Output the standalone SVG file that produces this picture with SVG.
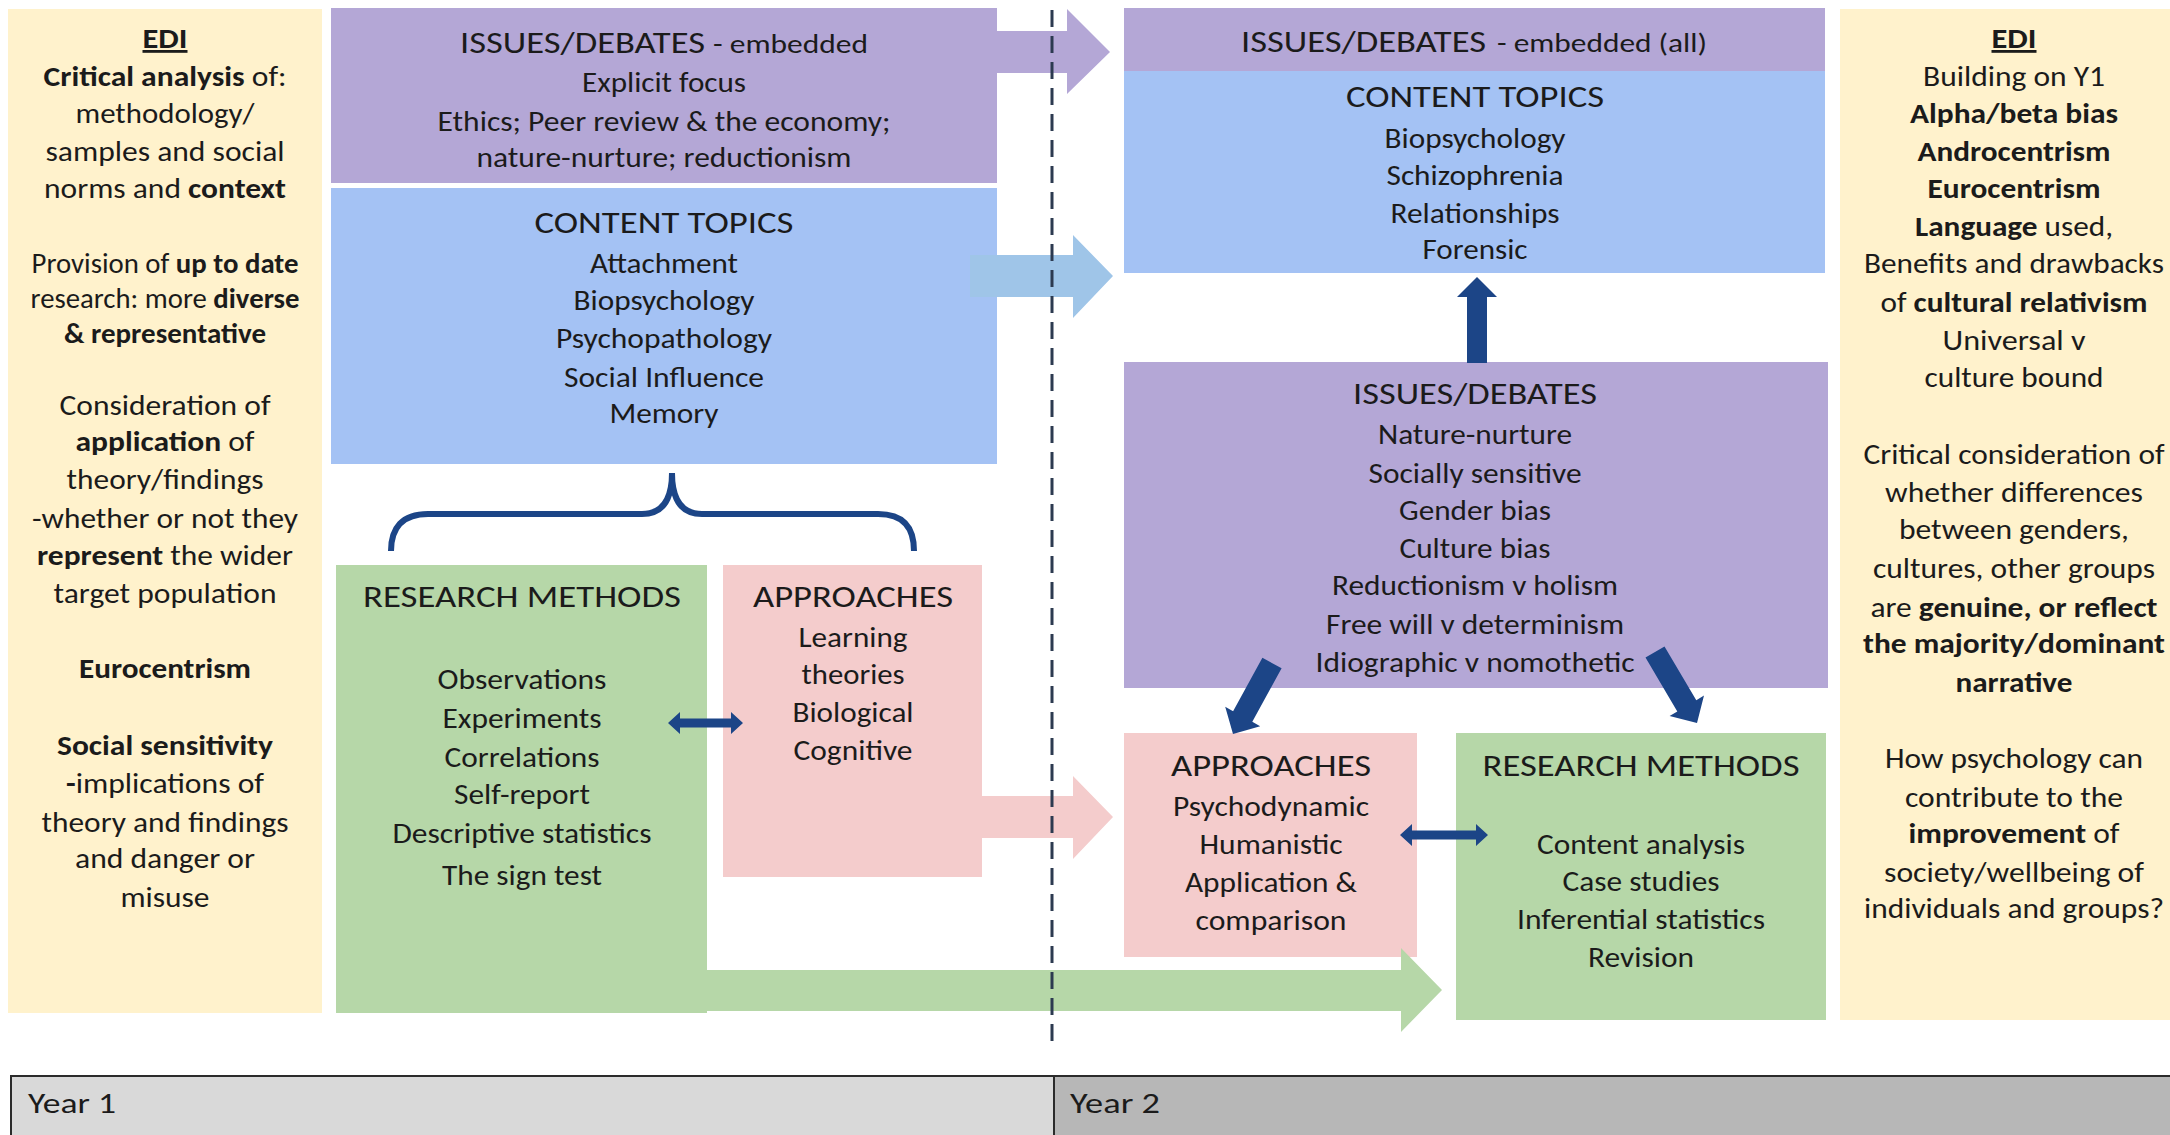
<svg xmlns="http://www.w3.org/2000/svg" width="2170" height="1135" viewBox="0 0 2170 1135">
<style>
text{font-family:Carlito,Lato,"Liberation Sans",sans-serif;fill:#1b1b1b;}
.t{font-size:31px;text-anchor:middle;}
.ts{font-size:31px;}
.sub{font-size:26px;}
.b{font-size:28px;text-anchor:middle;}
.e{font-size:28px;text-anchor:middle;}
.bo{font-weight:700;}
.edi{fill:#fff2cc;}
.pur{fill:#b4a7d6;}
.blu{fill:#a4c2f4;}
.grn{fill:#b6d7a8;}
.pnk{fill:#f4cccc;}
.dk{fill:#1c4587;}
</style>
<rect width="2170" height="1135" fill="#ffffff"/>

<g id="edi-year1">
<rect class="edi" x="8" y="9" width="314" height="1004"/>
<text class="e bo" x="165" y="48" textLength="45" lengthAdjust="spacingAndGlyphs" text-decoration="underline">EDI</text>
<text class="e" x="165" y="86" textLength="243" lengthAdjust="spacingAndGlyphs"><tspan class="bo">Critical analysis</tspan> of:</text>
<text class="e" x="165" y="123" textLength="179" lengthAdjust="spacingAndGlyphs">methodology/</text>
<text class="e" x="165" y="161" textLength="239" lengthAdjust="spacingAndGlyphs">samples and social</text>
<text class="e" x="165" y="198" textLength="242" lengthAdjust="spacingAndGlyphs">norms and <tspan class="bo">context</tspan></text>
<text class="e" x="165" y="273" textLength="267" lengthAdjust="spacingAndGlyphs">Provision of <tspan class="bo">up to date</tspan></text>
<text class="e" x="165" y="308" textLength="269" lengthAdjust="spacingAndGlyphs">research: more <tspan class="bo">diverse</tspan></text>
<text class="e bo" x="165" y="343" textLength="202" lengthAdjust="spacingAndGlyphs">&amp; representative</text>
<text class="e" x="165" y="415" textLength="211" lengthAdjust="spacingAndGlyphs">Consideration of</text>
<text class="e" x="165" y="451" textLength="179" lengthAdjust="spacingAndGlyphs"><tspan class="bo">application</tspan> of</text>
<text class="e" x="165" y="489" textLength="197" lengthAdjust="spacingAndGlyphs">theory/findings</text>
<text class="e" x="165" y="528" textLength="266" lengthAdjust="spacingAndGlyphs">-whether or not they</text>
<text class="e" x="165" y="565" textLength="256" lengthAdjust="spacingAndGlyphs"><tspan class="bo">represent</tspan> the wider</text>
<text class="e" x="165" y="603" textLength="223" lengthAdjust="spacingAndGlyphs">target population</text>
<text class="e bo" x="165" y="678" textLength="172" lengthAdjust="spacingAndGlyphs">Eurocentrism</text>
<text class="e bo" x="165" y="755" textLength="216" lengthAdjust="spacingAndGlyphs">Social sensitivity</text>
<text class="e" x="165" y="793" textLength="198" lengthAdjust="spacingAndGlyphs"><tspan class="bo">-</tspan>implications of</text>
<text class="e" x="165" y="832" textLength="247" lengthAdjust="spacingAndGlyphs">theory and findings</text>
<text class="e" x="165" y="868" textLength="180" lengthAdjust="spacingAndGlyphs">and danger or</text>
<text class="e" x="165" y="907" textLength="89" lengthAdjust="spacingAndGlyphs">misuse</text>
</g>

<g id="issues-year1">
<rect class="pur" x="331" y="8" width="666" height="175"/>
<text class="ts" x="460" y="53" textLength="245" lengthAdjust="spacingAndGlyphs">ISSUES/DEBATES</text>
<text class="sub" x="713" y="53" textLength="155" lengthAdjust="spacingAndGlyphs">- embedded</text>
<text class="b" x="664" y="92" textLength="164" lengthAdjust="spacingAndGlyphs">Explicit focus</text>
<text class="b" x="664" y="131" textLength="453" lengthAdjust="spacingAndGlyphs">Ethics; Peer review &amp; the economy;</text>
<text class="b" x="664" y="167" textLength="375" lengthAdjust="spacingAndGlyphs">nature-nurture; reductionism</text>
</g>

<g id="content-year1">
<rect class="blu" x="331" y="188" width="666" height="276"/>
<text class="t" x="664" y="233" textLength="259" lengthAdjust="spacingAndGlyphs">CONTENT TOPICS</text>
<text class="b" x="664" y="273" textLength="148" lengthAdjust="spacingAndGlyphs">Attachment</text>
<text class="b" x="664" y="310" textLength="181" lengthAdjust="spacingAndGlyphs">Biopsychology</text>
<text class="b" x="664" y="348" textLength="216" lengthAdjust="spacingAndGlyphs">Psychopathology</text>
<text class="b" x="664" y="387" textLength="200" lengthAdjust="spacingAndGlyphs">Social Influence</text>
<text class="b" x="664" y="423" textLength="109" lengthAdjust="spacingAndGlyphs">Memory</text>
</g>

<g id="methods-year1">
<rect class="grn" x="336" y="565" width="371" height="448"/>
<text class="t" x="522" y="607" textLength="318" lengthAdjust="spacingAndGlyphs">RESEARCH METHODS</text>
<text class="b" x="522" y="689" textLength="169" lengthAdjust="spacingAndGlyphs">Observations</text>
<text class="b" x="522" y="728" textLength="159" lengthAdjust="spacingAndGlyphs">Experiments</text>
<text class="b" x="522" y="767" textLength="155" lengthAdjust="spacingAndGlyphs">Correlations</text>
<text class="b" x="522" y="804" textLength="136" lengthAdjust="spacingAndGlyphs">Self-report</text>
<text class="b" x="522" y="843" textLength="259" lengthAdjust="spacingAndGlyphs">Descriptive statistics</text>
<text class="b" x="522" y="885" textLength="160" lengthAdjust="spacingAndGlyphs">The sign test</text>
</g>

<g id="approaches-year1">
<rect class="pnk" x="723" y="565" width="259" height="312"/>
<text class="t" x="853" y="607" textLength="200" lengthAdjust="spacingAndGlyphs">APPROACHES</text>
<text class="b" x="853" y="647" textLength="109" lengthAdjust="spacingAndGlyphs">Learning</text>
<text class="b" x="853" y="684" textLength="103" lengthAdjust="spacingAndGlyphs">theories</text>
<text class="b" x="853" y="722" textLength="121" lengthAdjust="spacingAndGlyphs">Biological</text>
<text class="b" x="853" y="760" textLength="119" lengthAdjust="spacingAndGlyphs">Cognitive</text>
</g>

<g id="issues-embedded-year2">
<rect class="pur" x="1124" y="8" width="701" height="63"/>
<text class="ts" x="1241" y="52" textLength="245" lengthAdjust="spacingAndGlyphs">ISSUES/DEBATES</text>
<text class="sub" x="1497" y="52" textLength="210" lengthAdjust="spacingAndGlyphs">- embedded (all)</text>
</g>

<g id="content-year2">
<rect class="blu" x="1124" y="71" width="701" height="202"/>
<text class="t" x="1475" y="107" textLength="258" lengthAdjust="spacingAndGlyphs">CONTENT TOPICS</text>
<text class="b" x="1475" y="148" textLength="181" lengthAdjust="spacingAndGlyphs">Biopsychology</text>
<text class="b" x="1475" y="185" textLength="177" lengthAdjust="spacingAndGlyphs">Schizophrenia</text>
<text class="b" x="1475" y="223" textLength="169" lengthAdjust="spacingAndGlyphs">Relationships</text>
<text class="b" x="1475" y="259" textLength="105" lengthAdjust="spacingAndGlyphs">Forensic</text>
</g>

<g id="issues-year2">
<rect class="pur" x="1124" y="362" width="704" height="326"/>
<text class="t" x="1475" y="404" textLength="244" lengthAdjust="spacingAndGlyphs">ISSUES/DEBATES</text>
<text class="b" x="1475" y="444" textLength="194" lengthAdjust="spacingAndGlyphs">Nature-nurture</text>
<text class="b" x="1475" y="483" textLength="213" lengthAdjust="spacingAndGlyphs">Socially sensitive</text>
<text class="b" x="1475" y="520" textLength="152" lengthAdjust="spacingAndGlyphs">Gender bias</text>
<text class="b" x="1475" y="558" textLength="151" lengthAdjust="spacingAndGlyphs">Culture bias</text>
<text class="b" x="1475" y="595" textLength="286" lengthAdjust="spacingAndGlyphs">Reductionism v holism</text>
<text class="b" x="1475" y="634" textLength="298" lengthAdjust="spacingAndGlyphs">Free will v determinism</text>
<text class="b" x="1475" y="672" textLength="319" lengthAdjust="spacingAndGlyphs">Idiographic v nomothetic</text>
</g>

<g id="approaches-year2">
<rect class="pnk" x="1124" y="733" width="293" height="224"/>
<text class="t" x="1271" y="776" textLength="200" lengthAdjust="spacingAndGlyphs">APPROACHES</text>
<text class="b" x="1271" y="816" textLength="196" lengthAdjust="spacingAndGlyphs">Psychodynamic</text>
<text class="b" x="1271" y="854" textLength="143" lengthAdjust="spacingAndGlyphs">Humanistic</text>
<text class="b" x="1271" y="892" textLength="172" lengthAdjust="spacingAndGlyphs">Application &amp;</text>
<text class="b" x="1271" y="930" textLength="151" lengthAdjust="spacingAndGlyphs">comparison</text>
</g>

<g id="methods-year2">
<rect class="grn" x="1456" y="733" width="370" height="287"/>
<text class="t" x="1641" y="776" textLength="317" lengthAdjust="spacingAndGlyphs">RESEARCH METHODS</text>
<text class="b" x="1641" y="854" textLength="208" lengthAdjust="spacingAndGlyphs">Content analysis</text>
<text class="b" x="1641" y="891" textLength="157" lengthAdjust="spacingAndGlyphs">Case studies</text>
<text class="b" x="1641" y="929" textLength="248" lengthAdjust="spacingAndGlyphs">Inferential statistics</text>
<text class="b" x="1641" y="967" textLength="106" lengthAdjust="spacingAndGlyphs">Revision</text>
</g>

<g id="edi-year2">
<rect class="edi" x="1840" y="9" width="340" height="1011"/>
<text class="e bo" x="2014" y="48" textLength="45" lengthAdjust="spacingAndGlyphs" text-decoration="underline">EDI</text>
<text class="e" x="2014" y="86" textLength="182" lengthAdjust="spacingAndGlyphs">Building on Y1</text>
<text class="e bo" x="2014" y="123" textLength="208" lengthAdjust="spacingAndGlyphs">Alpha/beta bias</text>
<text class="e bo" x="2014" y="161" textLength="193" lengthAdjust="spacingAndGlyphs">Androcentrism</text>
<text class="e bo" x="2014" y="198" textLength="173" lengthAdjust="spacingAndGlyphs">Eurocentrism</text>
<text class="e" x="2014" y="236" textLength="198" lengthAdjust="spacingAndGlyphs"><tspan class="bo">Language</tspan> used,</text>
<text class="e" x="2014" y="273" textLength="300" lengthAdjust="spacingAndGlyphs">Benefits and drawbacks</text>
<text class="e" x="2014" y="312" textLength="267" lengthAdjust="spacingAndGlyphs">of <tspan class="bo">cultural relativism</tspan></text>
<text class="e" x="2014" y="350" textLength="143" lengthAdjust="spacingAndGlyphs">Universal v</text>
<text class="e" x="2014" y="387" textLength="179" lengthAdjust="spacingAndGlyphs">culture bound</text>
<text class="e" x="2014" y="464" textLength="301" lengthAdjust="spacingAndGlyphs">Critical consideration of</text>
<text class="e" x="2014" y="502" textLength="258" lengthAdjust="spacingAndGlyphs">whether differences</text>
<text class="e" x="2014" y="539" textLength="230" lengthAdjust="spacingAndGlyphs">between genders,</text>
<text class="e" x="2014" y="578" textLength="282" lengthAdjust="spacingAndGlyphs">cultures, other groups</text>
<text class="e" x="2014" y="617" textLength="287" lengthAdjust="spacingAndGlyphs">are <tspan class="bo">genuine, or reflect</tspan></text>
<text class="e bo" x="2014" y="653" textLength="302" lengthAdjust="spacingAndGlyphs">the majority/dominant</text>
<text class="e bo" x="2014" y="692" textLength="117" lengthAdjust="spacingAndGlyphs">narrative</text>
<text class="e" x="2014" y="768" textLength="258" lengthAdjust="spacingAndGlyphs">How psychology can</text>
<text class="e" x="2014" y="807" textLength="218" lengthAdjust="spacingAndGlyphs">contribute to the</text>
<text class="e" x="2014" y="843" textLength="211" lengthAdjust="spacingAndGlyphs"><tspan class="bo">improvement</tspan> of</text>
<text class="e" x="2014" y="882" textLength="260" lengthAdjust="spacingAndGlyphs">society/wellbeing of</text>
<text class="e" x="2014" y="918" textLength="300" lengthAdjust="spacingAndGlyphs">individuals and groups?</text>
</g>

<g id="timeline">
<rect x="11" y="1076" width="1043" height="62" fill="#d9d9d9" stroke="#2b2b2b" stroke-width="2"/>
<rect x="1054" y="1076" width="1120" height="62" fill="#b7b7b7" stroke="#2b2b2b" stroke-width="2"/>
<text x="28" y="1113" font-size="29" textLength="88" lengthAdjust="spacingAndGlyphs">Year 1</text>
<text x="1070" y="1113" font-size="29" textLength="90" lengthAdjust="spacingAndGlyphs">Year 2</text>
</g>

<g id="connectors">
<polygon class="pur" points="990,31 1067,31 1067,9 1110,52 1067,94 1067,73 990,73"/>
<polygon fill="#9fc5e8" points="970,255 1073,255 1073,235 1113,276 1073,318 1073,297 970,297"/>
<polygon class="pnk" points="975,796 1073,796 1073,776 1113,817 1073,859 1073,838 975,838"/>
<polygon class="grn" points="700,970 1401,970 1401,948 1442,990 1401,1032 1401,1011 700,1011"/>
<path d="M391,551 C391,528 402,514 428,514 L642,514 C662,514 672,500 672,473 C672,500 682,514 702,514 L878,514 C904,514 914,528 914,551" fill="none" stroke="#1c4587" stroke-width="6"/>
<polygon class="dk" points="668,723 680,712 680,718.5 731,718.5 731,712 743,723 731,734 731,727.5 680,727.5 680,734"/>
<polygon class="dk" points="1400,835 1412,824 1412,830.5 1476,830.5 1476,824 1488,835 1476,846 1476,839.5 1412,839.5 1412,846"/>
<polygon class="dk" points="1467,363 1467,297 1457,297 1477,277 1497,297 1487,297 1487,363"/>
<polygon class="dk" points="1281.6,668.3 1252.3,721.8 1260.2,726.2 1233,734 1225.2,706.8 1233.1,711.2 1262.4,657.7"/>
<polygon class="dk" points="1645.5,657.6 1677.3,711.4 1669.6,716 1697,723 1704,695.6 1696.3,700.2 1664.5,646.4"/>
<line x1="1052" y1="10" x2="1052" y2="1050" stroke="#2c3a50" stroke-width="3" stroke-dasharray="17 9"/>
</g>
</svg>
